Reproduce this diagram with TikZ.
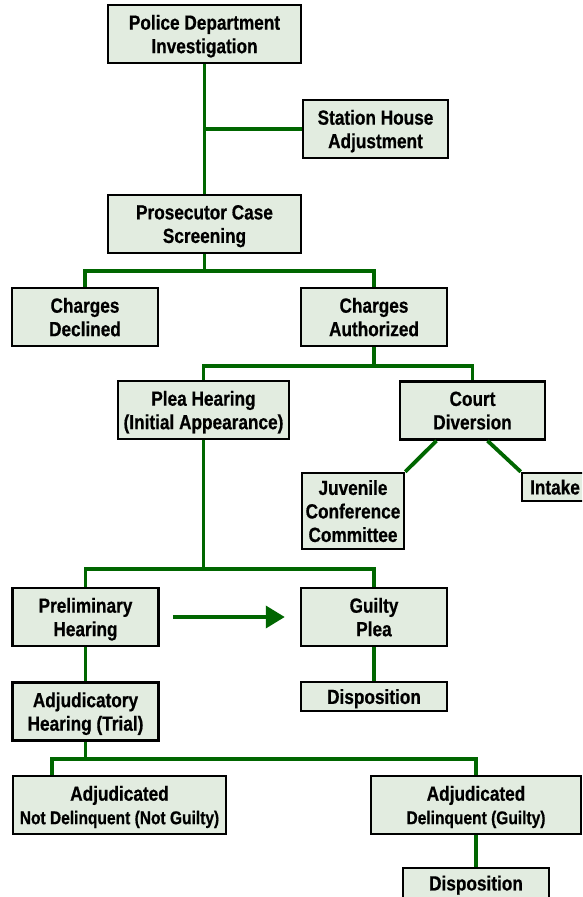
\documentclass[tikz,border=0pt]{standalone}
\usepackage{fontspec}
\setmainfont{Liberation Sans}[FakeStretch=0.84, FakeBold=0.6]
\usetikzlibrary{arrows.meta}
\definecolor{boxfill}{RGB}{226,236,224}
\definecolor{linkgreen}{RGB}{0,102,0}

\begin{document}
\begin{tikzpicture}[x=1pt, y=-1pt,
  stage/.style={draw=black, line width=2.5pt, fill=boxfill, align=center, inner sep=0pt, text depth=0pt,
    minimum width=146pt, minimum height=58pt, font=\fontsize{20.5}{23.5}\selectfont\bfseries},
  link/.style={draw=linkgreen, line width=3.8pt}]

\useasboundingbox (0,0) rectangle (582,897);
\clip (0,0) rectangle (582,897);

\node[stage, minimum width=193pt] (police) at (204.5,34) {Police Department\\Investigation};
\node[stage, minimum width=145pt] (station) at (375.5,129) {Station House\\Adjustment};
\node[stage, minimum width=193pt] (prosecutor) at (204.5,224) {Prosecutor Case\\Screening};
\node[stage] (declined) at (85,317) {Charges\\Declined};
\node[stage] (authorized) at (374,317) {Charges\\Authorized};
\node[stage, minimum width=171pt] (plea) at (203.5,410) {Plea Hearing\\(Initial Appearance)};
\node[stage, minimum width=145pt] (diversion) at (472.5,410.5) {Court\\Diversion};
\node[stage, minimum width=102pt, minimum height=76pt] (juvenile) at (353,511) {Juvenile\\Conference\\Committee};
\node[stage, minimum width=66pt, minimum height=28pt] (intake) at (555,487) {Intake};
\node[stage] (prelim) at (85.5,617) {Preliminary\\Hearing};
\node[stage] (guilty) at (374,617) {Guilty\\Plea};
\node[stage, minimum height=29pt] (dispo1) at (374,696.5) {Disposition};
\node[stage] (adjhear) at (85.5,711.5) {Adjudicatory\\Hearing (Trial)};
\node[stage, minimum width=213pt] (notdel) at (119.5,805) {Adjudicated\\{\fontsize{18.5}{23.5}\selectfont Not Delinquent (Not Guilty)}};
\node[stage, minimum width=210pt] (delinq) at (476,805) {Adjudicated\\{\fontsize{18.5}{23.5}\selectfont Delinquent (Guilty)}};
\node[stage, minimum height=30pt] (dispo2) at (476,883) {Disposition};

\draw[link] (police) -- (prosecutor);
\draw[link] (police.south |- station.west) -- (station.west);
\draw[link] (prosecutor.south) -- ++(0,17) coordinate (split1);
\draw[link] (declined.north) |- (split1) -| (authorized.north);
\draw[link] (authorized.south) -- ++(0,19) coordinate (split2);
\draw[link] (plea.north) |- (split2) -| (diversion.north);
\draw[link] ([xshift=-36pt]diversion.south) -- (juvenile.north east);
\draw[link] ([xshift=15pt]diversion.south) -- (intake.north west);
\draw[link] (plea.south) -- ++(0,129) coordinate (split3);
\draw[link] (prelim.north) |- (split3) -| (guilty.north);
\draw[link] (prelim) -- (adjhear);
\draw[link] (guilty) -- (dispo1);
\draw[link, -{Triangle[length=19pt, width=22pt]}, shorten <=13pt, shorten >=15pt] (prelim) -- (guilty);
\draw[link] (adjhear.south) -- ++(0,17) coordinate (split4);
\draw[link] ([xshift=-67.5pt]notdel.north) |- (split4) -| (delinq.north);
\draw[link] (delinq) -- (dispo2);
\end{tikzpicture}
\end{document}
